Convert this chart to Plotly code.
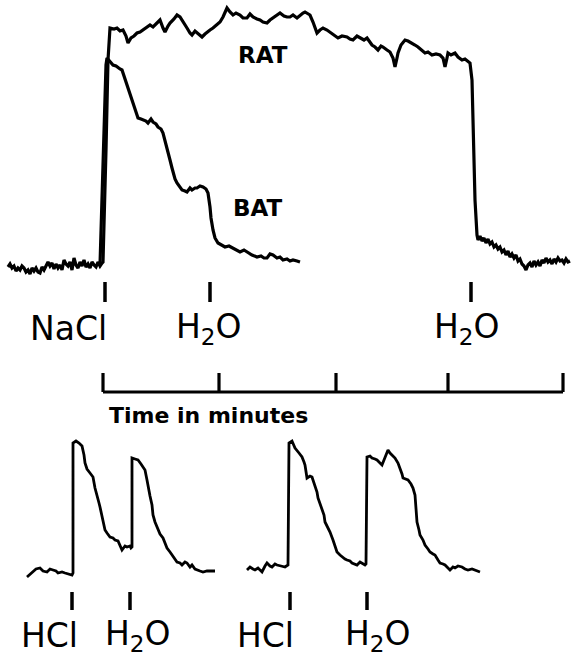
import plotly.graph_objects as go

# ---------------- data (chart-recorder units: x = paper position, y = pen deflection, downward) -----
BASE_x = [8, 10, 12, 14, 16, 18, 20, 22, 24, 26, 28, 30, 32, 34, 36, 38, 40, 42, 44, 46, 48, 50, 52, 54,
          56, 58, 60, 62, 64, 66, 68, 70, 72, 74, 76, 78, 80, 82, 84, 86, 88, 90, 92, 94, 96, 98, 100, 102]
BASE_y = [267, 264, 268, 266, 271, 268, 270, 266, 268, 272, 270, 274, 268, 271, 268, 272, 273, 267, 270, 265,
          262, 266, 263, 269, 264, 268, 265, 270, 260, 264, 266, 262, 270, 258, 265, 268, 262, 266, 260, 267,
          264, 268, 262, 265, 267, 262, 266, 263]

RAT_x = [103, 106, 108, 110, 114, 117, 120, 123, 126, 128, 131, 134, 137, 140, 143, 146, 150, 153, 157, 160,
         163, 165, 168, 170, 174, 177, 180, 182, 185, 187, 190, 192, 195, 197, 200, 202, 205, 207, 210, 213,
         216, 220, 223, 227, 230, 233, 236, 240, 243, 247, 250, 253, 257, 260, 263, 267, 270, 273, 277, 280,
         284, 287, 290, 293, 297, 300, 303, 305, 308, 310, 313, 315, 317, 320, 323, 327, 330, 334, 338, 342,
         347, 350, 353, 357, 360, 364, 367, 370, 372, 375, 378, 381, 383, 387, 390, 393, 395, 397, 398, 401,
         405, 408, 412, 415, 418, 422, 425, 428, 432, 436, 440, 443, 445, 447, 448, 451, 455, 458, 462, 465,
         468, 470, 472, 473, 475, 477,
         478, 480, 482, 484, 486, 488, 490, 492, 494, 496, 498, 500, 502, 504, 506, 508, 510, 512, 514, 516,
         518, 520, 522, 524, 526, 528, 530, 532, 534, 536, 538, 540, 542, 544, 546, 548, 550, 552, 554, 556,
         558, 560, 562, 564, 566, 568, 570]
RAT_y = [262, 150, 60, 28, 29, 28, 31, 30, 36, 43, 38, 36, 33, 32, 30, 28, 25, 27, 23, 20,
         28, 32, 26, 23, 19, 15, 17, 20, 24, 28, 33, 35, 31, 33, 35, 37, 34, 32, 30, 28,
         25, 22, 17, 8, 12, 15, 13, 15, 18, 18, 14, 17, 19, 20, 22, 23, 20, 18, 15, 13,
         16, 17, 17, 15, 18, 15, 13, 12, 14, 15, 22, 28, 33, 30, 28, 30, 32, 35, 38, 36,
         37, 39, 40, 36, 38, 40, 38, 42, 45, 47, 50, 46, 47, 50, 52, 58, 67, 58, 53, 45,
         40, 41, 43, 45, 47, 50, 53, 52, 55, 54, 55, 58, 67, 58, 53, 55, 53, 57, 60, 59,
         62, 63, 80, 133, 200, 235,
         240, 236, 241, 238, 243, 239, 244, 242, 247, 245, 249, 247, 252, 250, 255, 251, 257, 254, 258, 255,
         261, 259, 264, 266, 270, 265, 263, 267, 261, 265, 262, 266, 260, 263, 258, 262, 260, 264, 259, 262,
         258, 261, 260, 263, 259, 262, 261]

BAT_x = [100, 102, 104, 106, 107, 110, 113, 116, 118, 120, 122, 124, 125, 127, 128, 130, 132, 134, 135, 137,
         138, 141, 143, 146, 148, 151, 153, 156, 158, 161, 163, 165, 167, 169, 170, 172, 173, 175, 177, 180,
         182, 185, 187, 190, 192, 195, 197, 200, 203, 206, 208, 210, 211, 213, 215, 218, 221, 225, 229, 233,
         237, 240, 244, 248, 252, 257, 261, 264, 267, 270, 273, 277, 280, 283, 287, 290, 293, 297, 300]
BAT_y = [265, 200, 120, 65, 58, 62, 65, 66, 68, 69, 70, 76, 80, 85, 88, 95, 100, 106, 110, 115,
         118, 119, 120, 121, 123, 119, 122, 124, 127, 129, 133, 140, 147, 155, 160, 168, 173, 179, 183, 187,
         190, 191, 192, 188, 190, 188, 188, 186, 187, 189, 193, 207, 218, 230, 238, 243, 245, 247, 246, 248,
         250, 252, 250, 253, 255, 257, 256, 258, 258, 254, 255, 258, 257, 260, 259, 261, 260, 261, 262]

HCL1_x = [27, 30, 33, 36, 40, 43, 47, 50, 53, 56, 58, 62, 65, 68, 72, 73, 73, 76, 79, 82, 84, 85, 87, 90,
          93, 95, 97, 99, 100, 102, 103, 105, 107, 110, 113, 115, 118, 120, 122, 125, 127, 130, 131, 132,
          132, 135, 138, 141, 145, 147, 148, 150, 152, 153, 155, 158, 160, 163, 165, 167, 170, 172, 175,
          177, 180, 182, 185, 187, 190, 192, 195, 197, 200, 203, 207, 212, 215]
HCL1_y = [577, 574, 572, 569, 568, 571, 572, 569, 570, 571, 573, 572, 573, 574, 575, 573, 443, 441, 443, 446,
          455, 463, 469, 473, 477, 488, 497, 503, 507, 515, 520, 530, 533, 537, 538, 540, 541, 545, 550, 546,
          547, 546, 548, 547, 458, 459, 460, 464, 470, 480, 487, 496, 505, 515, 522, 530, 534, 538, 543,
          548, 552, 555, 560, 562, 563, 565, 562, 563, 567, 565, 569, 570, 571, 572, 571, 571, 571]

HCL2_x = [247, 250, 253, 255, 258, 262, 265, 267, 270, 272, 275, 277, 281, 285, 288, 289, 292, 295, 299, 302,
          304, 305, 307, 310, 312, 315, 317, 318, 320, 322, 324, 325, 328, 330, 333, 335, 337, 340, 342, 345,
          347, 350, 352, 355, 357, 360, 362, 365, 366, 367, 370, 372, 375, 377, 380, 382, 384, 385, 388, 390,
          393, 395, 398, 400, 402, 403, 406, 408, 411, 413, 415, 416, 417, 419, 420, 423, 425, 428, 430, 433,
          435, 438, 440, 443, 445, 448, 450, 453, 455, 458, 462, 465, 468, 472, 475, 478, 480]
HCL2_y = [570, 567, 569, 570, 568, 572, 566, 563, 566, 567, 564, 565, 566, 567, 565, 443, 441, 448, 453, 457,
          462, 465, 478, 476, 477, 485, 492, 498, 503, 508, 515, 522, 528, 532, 540, 546, 552, 555, 557, 559,
          560, 561, 563, 564, 565, 562, 563, 565, 564, 457, 456, 458, 459, 460, 463, 465, 460, 457, 450, 453,
          456, 458, 463, 468, 474, 478, 479, 480, 484, 488, 495, 508, 522, 530, 535, 540, 545, 549, 552, 554,
          555, 560, 563, 564, 565, 568, 570, 567, 568, 566, 567, 569, 570, 569, 570, 571, 572]

# stimulus markers and labels
TOP_STIM_x = [105, 210, 471]
TOP_STIM_labels = ["NaCl", "H<sub>2</sub>O", "H<sub>2</sub>O"]
TOP_LABEL_x = [68, 209, 467]
BOT_STIM_x = [72, 130, 290, 367]
BOT_STIM_labels = ["HCl", "H<sub>2</sub>O", "HCl", "H<sub>2</sub>O"]
BOT_LABEL_x = [49, 138, 265, 378]

# time scale bar (minutes)
TIME_MIN = [0, 1, 2, 3, 4]
TIME_TICK_x = [103, 219, 336, 448, 563]
TIME_BAR_y = 392

W, H = 571, 657
fig = go.Figure()

line_top = dict(color="black", width=3.2)
line_bot = dict(color="black", width=2.8)

fig.add_trace(go.Scatter(x=BASE_x + RAT_x, y=BASE_y + RAT_y, mode="lines", line=line_top))
fig.add_trace(go.Scatter(x=BAT_x, y=BAT_y, mode="lines", line=line_top))
fig.add_trace(go.Scatter(x=HCL1_x, y=HCL1_y, mode="lines", line=line_bot))
fig.add_trace(go.Scatter(x=HCL2_x, y=HCL2_y, mode="lines", line=line_bot))

# stimulus tick marks
sx, sy = [], []
for x in TOP_STIM_x:
    sx += [x, x, None]
    sy += [282, 302, None]
for x in BOT_STIM_x:
    sx += [x, x, None]
    sy += [592, 610, None]
fig.add_trace(go.Scatter(x=sx, y=sy, mode="lines", line=dict(color="black", width=3.5)))

# time bar
tx = [TIME_TICK_x[0], TIME_TICK_x[-1], None]
ty = [TIME_BAR_y, TIME_BAR_y, None]
for x in TIME_TICK_x:
    tx += [x, x, None]
    ty += [TIME_BAR_y, 373, None]
fig.add_trace(go.Scatter(x=tx, y=ty, mode="lines", line=dict(color="black", width=3.2)))

font_lbl = dict(family="DejaVu Sans", size=33, color="black")
font_bold = dict(family="DejaVu Sans", size=23, color="black")

ann = []
for x, t in zip(TOP_LABEL_x, TOP_STIM_labels):
    ann.append(dict(x=x, y=328, text=t, showarrow=False, font=font_lbl, xanchor="center", yanchor="middle"))
for x, t in zip(BOT_LABEL_x, BOT_STIM_labels):
    ann.append(dict(x=x, y=635, text=t, showarrow=False, font=font_lbl, xanchor="center", yanchor="middle"))
ann.append(dict(x=263, y=55, text="<b>RAT</b>", showarrow=False, font=font_bold, xanchor="center", yanchor="middle"))
ann.append(dict(x=258, y=208, text="<b>BAT</b>", showarrow=False, font=font_bold, xanchor="center", yanchor="middle"))
ann.append(dict(x=107, y=415, text="<b>Time in minutes</b>", showarrow=False,
                font=dict(family="DejaVu Sans", size=22, color="black"), xanchor="left", yanchor="middle"))

fig.update_layout(
    width=W, height=H, margin=dict(l=0, r=0, t=0, b=0),
    paper_bgcolor="white", plot_bgcolor="white", showlegend=False,
    xaxis=dict(range=[0, W], visible=False, fixedrange=True),
    yaxis=dict(range=[H, 0], visible=False, fixedrange=True),
    annotations=ann,
)
fig.write_html(
    "out.html",
    config={"displayModeBar": False, "responsive": False},
    post_script="document.body.style.margin='0';document.body.style.overflow='hidden';",
)
